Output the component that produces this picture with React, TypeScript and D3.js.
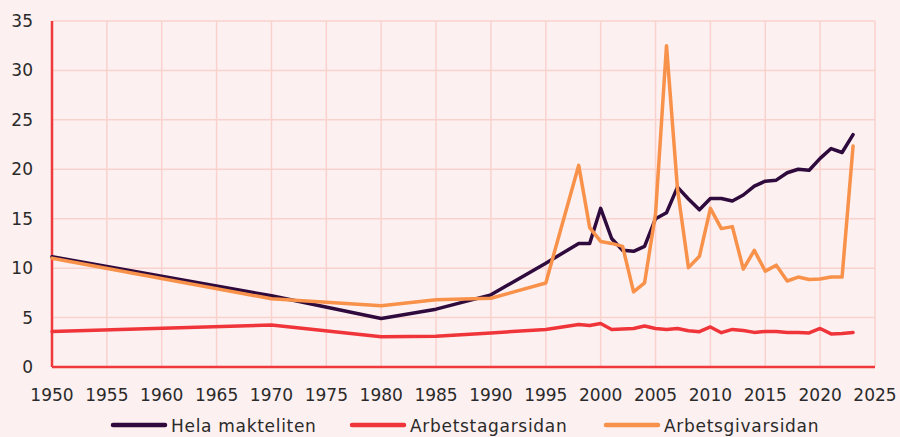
import * as d3 from "d3";

const years: number[] = [
  1950, 1970, 1980, 1985, 1990, 1995, 1998, 1999, 2000, 2001, 2002, 2003, 2004,
  2005, 2006, 2007, 2008, 2009, 2010, 2011, 2012, 2013, 2014, 2015, 2016, 2017,
  2018, 2019, 2020, 2021, 2022, 2023,
];

const helaMakteliten: number[] = [
  11.15, 7.2, 4.9, 5.85, 7.3, 10.5, 12.5, 12.5, 16.05, 13.0, 11.8, 11.7, 12.2,
  15.0, 15.6, 18.2, 17.0, 15.9, 17.05, 17.05, 16.8, 17.4, 18.3, 18.8, 18.9,
  19.65, 20.0, 19.9, 21.1, 22.1, 21.7, 23.5,
];

const arbetstagarsidan: number[] = [
  3.6, 4.25, 3.07, 3.1, 3.45, 3.8, 4.3, 4.2, 4.4, 3.8, 3.85, 3.9, 4.15, 3.9,
  3.8, 3.9, 3.67, 3.57, 4.05, 3.47, 3.8, 3.7, 3.5, 3.6, 3.6, 3.5, 3.5, 3.45,
  3.9, 3.35, 3.4, 3.5,
];

const arbetsgivarsidan: number[] = [
  11.0, 6.9, 6.2, 6.8, 6.95, 8.5, 20.4, 14.1, 12.7, 12.5, 12.2, 7.6, 8.5, 15.5,
  32.5, 18.0, 10.05, 11.2, 16.05, 14.0, 14.2, 9.9, 11.8, 9.7, 10.3, 8.7, 9.1,
  8.85, 8.9, 9.1, 9.1, 22.35,
];

const seriesNames: string[] = ["Hela makteliten", "Arbetstagarsidan", "Arbetsgivarsidan"];
const seriesColors: string[] = ["#2e0a3d", "#f0353a", "#f8914a"];

const xTicks: number[] = d3.range(1950, 2026, 5);
const yTicks: number[] = d3.range(0, 36, 5);

const width = 900;
const height = 437;
const margin = { left: 52, right: 25, top: 21, bottom: 70 };
const font = "'DejaVu Sans', sans-serif";

export default function App() {
  const x = d3
    .scaleLinear()
    .domain([1950, 2025])
    .range([margin.left, width - margin.right]);
  const y = d3
    .scaleLinear()
    .domain([0, 35])
    .range([height - margin.bottom, margin.top]);

  const allSeries = [helaMakteliten, arbetstagarsidan, arbetsgivarsidan];
  const line = d3
    .line<number>()
    .x((_, i) => x(years[i]))
    .y((d) => y(d));

  // legend positions (sample start x)
  const legendX = [113, 352, 606];

  return (
    <svg
      width={width}
      height={height}
      style={{ position: "absolute", left: 0, top: 0, display: "block" }}
    >
      <rect width={width} height={height} fill="#fdf0f0" />
      <g stroke="#f9d2ce" strokeWidth={1.5}>
        {xTicks.map((t) => (
          <line key={"gx" + t} x1={x(t)} x2={x(t)} y1={y(35)} y2={y(0)} />
        ))}
        {yTicks.map((t) => (
          <line key={"gy" + t} x1={x(1950)} x2={x(2025)} y1={y(t)} y2={y(t)} />
        ))}
      </g>
      <g stroke="#f0393b" strokeWidth={2.5}>
        <line x1={x(1950)} x2={x(1950)} y1={y(35)} y2={y(0)} />
        <line x1={x(1950)} x2={x(2025)} y1={y(0)} y2={y(0)} />
      </g>
      <g fontFamily={font} fontSize={17} fill="#2a2a2a">
        {yTicks.map((t) => (
          <text key={"ty" + t} x={33} y={y(t)} textAnchor="end" dominantBaseline="central">
            {t}
          </text>
        ))}
        {xTicks.map((t) => (
          <text key={"tx" + t} x={x(t)} y={401} textAnchor="middle">
            {t}
          </text>
        ))}
      </g>
      {allSeries.map((s, i) => (
        <path
          key={seriesNames[i]}
          d={line(s) ?? ""}
          fill="none"
          stroke={seriesColors[i]}
          strokeWidth={3.5}
          strokeLinejoin="round"
          strokeLinecap="round"
        />
      ))}
      <g fontFamily={font} fontSize={17} fill="#2a2a2a">
        {seriesNames.map((n, i) => (
          <g key={"lg" + n}>
            <line
              x1={legendX[i]}
              x2={legendX[i] + 52}
              y1={425}
              y2={425}
              stroke={seriesColors[i]}
              strokeWidth={4.5}
              strokeLinecap="round"
            />
            <text x={legendX[i] + 58} y={432} letterSpacing={0.7}>
              {n}
            </text>
          </g>
        ))}
      </g>
    </svg>
  );
}
